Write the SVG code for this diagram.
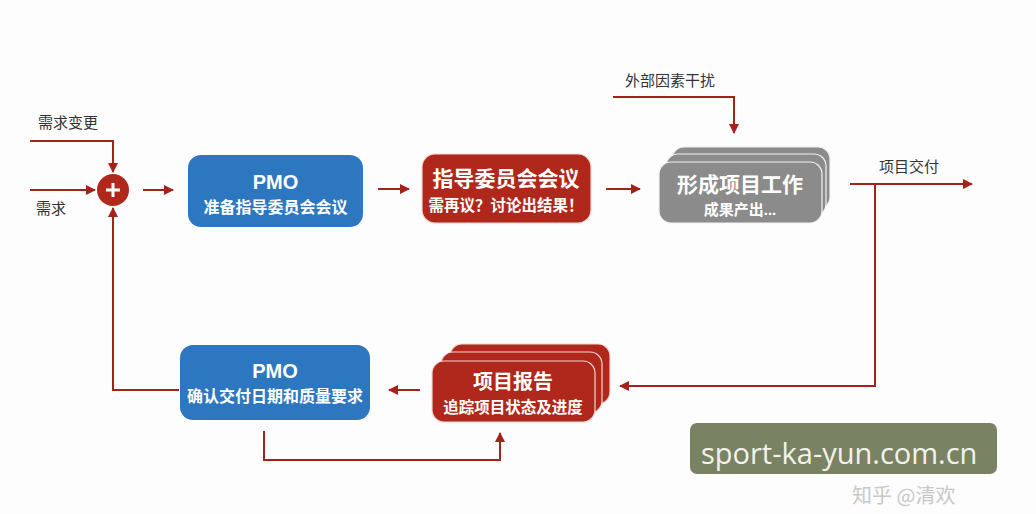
<svg xmlns="http://www.w3.org/2000/svg" width="1036" height="514" viewBox="0 0 1036 514">
<defs>
<marker id="ah" viewBox="0 0 10 10" refX="9" refY="5" markerWidth="10" markerHeight="10" markerUnits="userSpaceOnUse" orient="auto">
<path d="M0,0 L10,5 L0,10 Z" fill="#a3231b"/>
</marker>
<style>
.ln{fill:none;stroke:#a3231b;stroke-width:2}
.lab{font-family:"Noto Sans CJK SC","Liberation Sans",sans-serif;font-size:15px;fill:#333}
.t{font-family:"Liberation Sans","Noto Sans CJK SC",sans-serif;font-weight:bold;fill:#fff;text-anchor:middle}
.blue{fill:#2d77c0}
.red{fill:#b0281c;stroke:#f2d8d2;stroke-width:1.2}
.gray{fill:#8b8b8b;stroke:#f2f2f2;stroke-width:1.2}
</style>
</defs>
<rect width="1036" height="514" fill="#fdfdfd"/>

<g id="connectors">
<path class="ln" d="M30,141 H113 V172" marker-end="url(#ah)"/>
<path class="ln" d="M30,190 H95" marker-end="url(#ah)"/>
<path class="ln" d="M143,190 H173" marker-end="url(#ah)"/>
<path class="ln" d="M179,390 H113 V208" marker-end="url(#ah)"/>
<path class="ln" d="M378,189 H409" marker-end="url(#ah)"/>
<path class="ln" d="M606,189 H640" marker-end="url(#ah)"/>
<path class="ln" d="M613,97 H734 V133" marker-end="url(#ah)"/>
<path class="ln" d="M850,184 H972" marker-end="url(#ah)"/>
<path class="ln" d="M875,184 V386 H620" marker-end="url(#ah)"/>
<path class="ln" d="M420,390 H389" marker-end="url(#ah)"/>
<path class="ln" d="M264,431 V460 H500 V433" marker-end="url(#ah)"/>
</g>

<g id="labels">
<text class="lab" x="38" y="128">需求变更</text>
<text class="lab" x="36" y="214">需求</text>
<text class="lab" x="625" y="86">外部因素干扰</text>
<text class="lab" x="879" y="172">项目交付</text>
</g>

<g id="merge">
<circle cx="113" cy="190" r="16" fill="#b0281c"/>
<path d="M113,183 V197 M106,190 H120" stroke="#fff" stroke-width="3"/>
</g>

<g id="pmo-prepare">
<rect class="blue" x="188" y="155" width="175" height="72" rx="13"/>
<text class="t" x="275.5" y="189" font-size="20">PMO</text>
<text class="t" x="275.5" y="213" font-size="16">准备指导委员会会议</text>
</g>

<g id="steering">
<rect class="red" x="422" y="154" width="169" height="69" rx="13"/>
<text class="t" x="506" y="186" font-size="21">指导委员会会议</text>
<text class="t" x="506" y="211" font-size="15.5">需再议？讨论出结果！</text>
</g>

<g id="work">
<rect class="gray" x="672" y="147" width="158" height="62" rx="12"/>
<rect class="gray" x="666" y="154" width="160" height="62" rx="12"/>
<rect class="gray" x="659" y="162" width="163" height="61" rx="12"/>
<text class="t" x="740" y="192" font-size="21">形成项目工作</text>
<text class="t" x="740" y="215" font-size="15">成果产出...</text>
</g>

<g id="pmo-confirm">
<rect class="blue" x="180" y="345" width="190" height="75" rx="13"/>
<text class="t" x="275" y="378" font-size="20">PMO</text>
<text class="t" x="275" y="402" font-size="16">确认交付日期和质量要求</text>
</g>

<g id="report">
<rect class="red" x="450" y="344" width="160" height="60" rx="12"/>
<rect class="red" x="441" y="352" width="161" height="61" rx="12"/>
<rect class="red" x="432" y="361" width="163" height="61" rx="12"/>
<text class="t" x="513" y="389" font-size="20">项目报告</text>
<text class="t" x="513" y="413" font-size="15.5">追踪项目状态及进度</text>
</g>

<g id="watermark">
<rect x="690" y="423" width="307" height="51" rx="7" fill="#7a8264"/>
<text x="701" y="464" font-family="Open Sans,Noto Sans,sans-serif" font-size="29" fill="#f2f2ea">sport-ka-yun.com.cn</text>
<text x="852" y="503" font-family="Noto Sans CJK SC,sans-serif" font-size="20" fill="#c8c8c8">知乎 @清欢</text>
</g>
</svg>
